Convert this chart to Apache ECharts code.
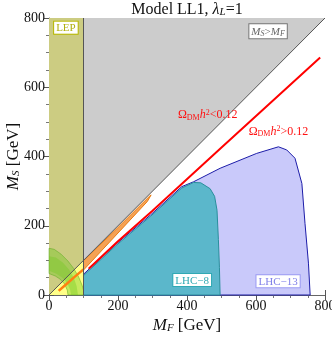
<!DOCTYPE html>
<html>
<head>
<meta charset="utf-8">
<script src="https://cdn.jsdelivr.net/npm/echarts@6/dist/echarts.min.js"></script>
<style>
html, body { margin: 0; padding: 0; background: #fff; }
#chart { width: 332px; height: 338px; }
</style>
</head>
<body>
<div id="chart"></div>
<script>
// axis range / ticks (GeV)
const axisMin = 0
const axisMax = 800
const axisStep = 200

// regions, points are [M_F, M_S] in GeV
const msAboveMf = [[0, 0], [0, 800], [800, 800]]
const lepAbove = [[0, 0], [0, 800], [100, 800], [100, 100]]
const lepBelow = [[0, 0], [100, 100], [100, 0]]
const greenOuter = [[0, 135], [15, 132], [35, 118], [55, 98], [72, 76], [86, 52], [96, 28], [100, 14], [100, 0],
    [55, 0], [53, 14], [45, 32], [32, 46], [18, 55], [0, 62]]
const greenInner = [[0, 112], [20, 108], [40, 94], [58, 74], [72, 50], [80, 26], [84, 0],
    [64, 0], [61, 16], [53, 34], [39, 50], [20, 62], [0, 70]]
const orangeBand = [[100, 99], [200, 195], [292, 286], [296, 289], [285, 270], [200, 179], [100, 72]]
const orangeLine = [[28, 12], [50, 31], [75, 53], [100, 74]]
const relicLine = [[115, 76], [200, 155], [300, 243], [500, 426], [786, 686]]
const lhc13 = [[100, 60], [192, 145], [294, 231], [385, 313], [419, 327], [496, 366], [602, 409], [665, 428],
    [689, 419], [713, 395], [733, 322], [742, 207], [752, 92], [757, 0], [100, 0]]
const lhc8 = [[100, 56], [192, 141], [294, 227], [385, 309], [419, 325], [440, 324], [467, 307], [480, 285],
    [487, 245], [491, 160], [494, 80], [496, 0], [100, 0]]
const diagonal = [[0, 0], [800, 800]]
const lepEdge = [[100, 0], [100, 800]]

const serif = "'Liberation Serif', 'DejaVu Serif', serif"

function polygonSeries(points, fill, stroke, z) {
    return {
        type: 'custom',
        z: z,
        silent: true,
        animation: false,
        data: points,
        renderItem: function (params, api) {
            if (params.dataIndex !== 0) return null
            return {
                type: 'polygon',
                shape: { points: points.map(function (p) { return api.coord(p) }) },
                style: { fill: fill, stroke: stroke || null, lineWidth: 1 }
            }
        }
    }
}

function lineSeries(points, color, width, z) {
    return {
        type: 'line',
        z: z,
        silent: true,
        animation: false,
        showSymbol: false,
        data: points,
        lineStyle: { color: color, width: width }
    }
}

function frameAxis(position, showLabel, name) {
    return {
        type: 'value',
        position: position,
        min: axisMin,
        max: axisMax,
        interval: axisStep,
        name: name,
        nameLocation: 'middle',
        nameMoveOverlap: false,
        nameGap: position === 'left' ? 27 : 22,
        nameTextStyle: {
            fontFamily: serif, fontSize: 17, color: '#111',
            rich: {
                i: { fontFamily: serif, fontStyle: 'italic', fontSize: 17, color: '#111' },
                s: { fontFamily: serif, fontStyle: 'italic', fontSize: 11, color: '#111', verticalAlign: 'bottom', lineHeight: 10 }
            }
        },
        axisLine: { show: showLabel, lineStyle: { color: '#666', width: 1 } },
        axisTick: { inside: true, length: 5, lineStyle: { color: '#555' } },
        minorTick: { show: true, splitNumber: 4, length: 3, lineStyle: { color: '#777' } },
        splitLine: { show: false },
        axisLabel: {
            show: showLabel,
            inside: false,
            margin: 4,
            fontFamily: serif,
            fontSize: 14,
            color: '#111'
        }
    }
}

const chart = echarts.init(document.getElementById('chart'))

chart.setOption({
    animation: false,
    grid: { left: 49, right: 7, top: 18, bottom: 43, containLabel: false, outerBoundsMode: 'none' },
    xAxis: [
        frameAxis('bottom', true, '{i|M}{s|F} [GeV]'),
        frameAxis('top', false, '')
    ],
    yAxis: [
        frameAxis('left', true, '{i|M}{s|S} [GeV]'),
        frameAxis('right', false, '')
    ],
    series: [
        polygonSeries(msAboveMf, '#cccccc', null, 1),
        polygonSeries(lhc13, '#c9c9fa', '#1c1ca8', 2),
        polygonSeries(lhc8, '#5bb7cb', '#2a8f9c', 3),
        polygonSeries(orangeBand, '#f5a255', '#e87a10', 4),
        lineSeries(relicLine, '#ff0000', 2, 5),
        polygonSeries(lepAbove, '#cccc82', null, 6),
        polygonSeries(lepBelow, '#ffff88', null, 6),
        polygonSeries(greenOuter, 'rgba(110,200,30,0.4)', 'rgba(90,170,30,0.5)', 7),
        polygonSeries(greenInner, 'rgba(110,200,30,0.35)', null, 8),
        lineSeries(orangeLine, '#ff8010', 2.5, 9),
        lineSeries(diagonal, '#555555', 1, 10),
        lineSeries(lepEdge, '#555555', 1, 10)
    ]
})

// text annotations, placed in data coordinates
const labelSpecs = [
    { at: [49, 772], text: 'LEP', color: '#b0b010', border: '#b8b800', size: 11 },
    { at: [635, 762], text: '{i|M}{s|S}>{i|M}{s|F}', color: '#666', border: '#777', size: 11 },
    { at: [460, 520], text: 'Ω{d|DM}{i|h}{p|2}<0.12', color: '#ff1010', size: 12 },
    { at: [665, 472], text: 'Ω{d|DM}{i|h}{p|2}>0.12', color: '#ff1010', size: 12 },
    { at: [415, 43], text: 'LHC−8', color: '#30a9b4', border: '#30a9b4', size: 11 },
    { at: [664, 40], text: 'LHC−13', color: '#7f7fe8', border: '#9a9af2', size: 11 }
]

function richFor(color, size) {
    return {
        i: { fontFamily: serif, fontStyle: 'italic', fontSize: size, fill: color, lineHeight: 13 },
        s: { fontFamily: serif, fontStyle: 'italic', fontSize: size - 3, fill: color, verticalAlign: 'bottom', lineHeight: 8 },
        d: { fontFamily: serif, fontSize: size - 4, fill: color, verticalAlign: 'bottom', lineHeight: 8 },
        p: { fontFamily: serif, fontSize: size - 4, fill: color, verticalAlign: 'top', lineHeight: 8 }
    }
}

const graphics = labelSpecs.map(function (spec) {
    const pos = chart.convertToPixel({ gridIndex: 0 }, spec.at)
    return {
        type: 'text',
        x: pos[0],
        y: pos[1],
        z: 100,
        style: {
            text: spec.text,
            fontFamily: serif,
            fontSize: spec.size,
            fill: spec.color,
            align: 'center',
            verticalAlign: 'middle',
            backgroundColor: spec.border ? '#fff' : null,
            borderColor: spec.border || null,
            borderWidth: spec.border ? 1 : 0,
            padding: spec.border ? [1, 2, 0, 2] : 0,
            rich: richFor(spec.color, spec.size)
        }
    }
})

const gridLeft = chart.convertToPixel({ gridIndex: 0 }, [axisMin, axisMax])
const gridRight = chart.convertToPixel({ gridIndex: 0 }, [axisMax, axisMax])
graphics.push({
    type: 'text',
    x: (gridLeft[0] + gridRight[0]) / 2,
    y: 1,
    style: {
        text: 'Model LL1, {i|λ}{s|L}=1',
        fontFamily: serif,
        fontSize: 16,
        fill: '#111',
        align: 'center',
        verticalAlign: 'top',
        rich: {
            i: { fontFamily: serif, fontStyle: 'italic', fontSize: 16, fill: '#111', lineHeight: 17 },
            s: { fontFamily: serif, fontStyle: 'italic', fontSize: 11, fill: '#111', verticalAlign: 'bottom', lineHeight: 9 }
        }
    }
})

chart.setOption({ graphic: graphics })
</script>
</body>
</html>
